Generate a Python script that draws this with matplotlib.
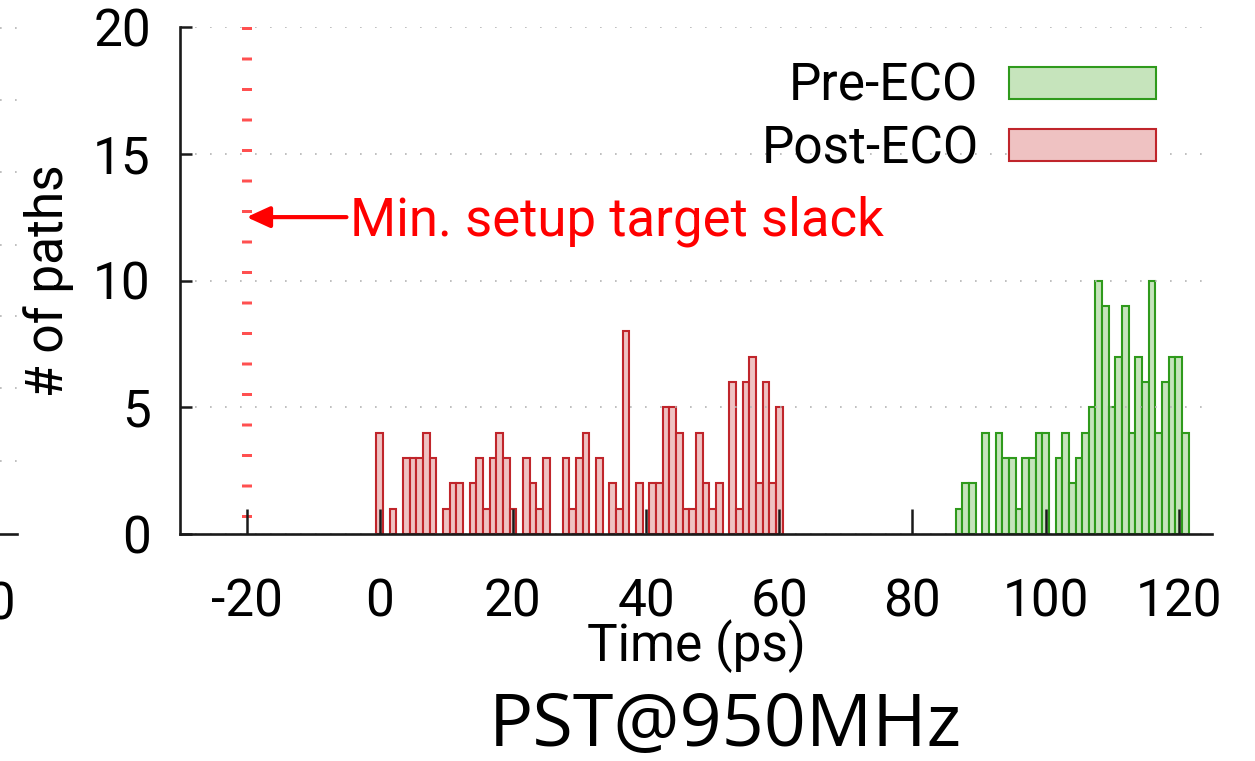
import numpy as np
import matplotlib.pyplot as plt
from matplotlib.patches import Patch
from matplotlib.lines import Line2D

# Slack histograms (1 ps bins): number of paths per bin
post_eco_ps = list(range(0, 61))
post_eco_paths = [4, 0, 1, 0, 3, 3, 3, 4, 3, 0,
                  1, 2, 2, 0, 2, 3, 1, 3, 4, 3,
                  1, 0, 3, 2, 1, 3, 0, 0, 3, 1,
                  3, 4, 0, 3, 0, 2, 1, 8, 0, 2,
                  0, 2, 2, 5, 5, 4, 1, 1, 4, 2,
                  1, 2, 0, 6, 1, 6, 7, 2, 6, 2,
                  5]
pre_eco_ps = list(range(87, 122))
pre_eco_paths = [1, 2, 2, 0, 4, 0, 4, 3, 3, 1,
                 3, 3, 4, 4, 0, 3, 4, 2, 3, 4,
                 5, 10, 9, 5, 7, 9, 4, 7, 6, 10,
                 4, 6, 7, 7, 4]

target_slack = -20
x_ticks = [-20, 0, 20, 40, 60, 80, 100, 120]
y_ticks = [0, 5, 10, 15, 20]

plt.rcParams['font.family'] = ['Roboto', 'DejaVu Sans']
plt.rcParams['axes.unicode_minus'] = False

W, H = 1255, 761
fig = plt.figure(figsize=(W / 100, H / 100), dpi=100)
ax = fig.add_axes([180 / W, 1 - 534 / H, (1212 - 180) / W, (534 - 27) / H])

green_face, green_edge = '#c6e4bc', '#2f9a1c'
red_face, red_edge = '#efc2c2', '#c0252b'


def draw_hist(xs, counts, face, edge):
    xs = np.asarray(xs)
    counts = np.asarray(counts)
    keep = counts > 0
    ax.bar(xs[keep], counts[keep], width=1.0, color=face,
           edgecolor=edge, linewidth=1.5, zorder=1)


draw_hist(pre_eco_ps, pre_eco_paths, green_face, green_edge)
draw_hist(post_eco_ps, post_eco_paths, red_face, red_edge)

# minimum setup target slack marker
ax.plot([target_slack, target_slack], [20, 0], color='#ff5050', lw=7.2,
        dashes=(0.3, 2.75), dash_capstyle='butt', zorder=1.2, clip_on=False)
ax.annotate('', xy=(target_slack, 12.5), xytext=(-5.0, 12.5),
            arrowprops=dict(arrowstyle='-|>,head_length=0.7,head_width=0.32',
                            color='red', lw=3, mutation_scale=20,
                            shrinkA=0, shrinkB=0))
ax.text(-4.5, 11.78, 'Min. setup target slack', color='red', fontsize=38,
        va='baseline', ha='left')

ax.set_xlim(-30, 125)
ax.set_ylim(0, 20)
ax.set_xticks(x_ticks)
ax.set_yticks(y_ticks)

for side in ('top', 'right'):
    ax.spines[side].set_visible(False)
for side in ('left', 'bottom'):
    ax.spines[side].set_linewidth(1.9)
    ax.spines[side].set_color('#1a1a1a')

ax.tick_params(axis='x', direction='in', length=18, width=1.8, color='#1a1a1a',
               labelsize=37, pad=31)
ax.tick_params(axis='y', direction='in', length=8.5, width=1.8, color='#1a1a1a',
               labelsize=37, pad=21)
ax.grid(axis='y', color='#b4b4b4', linewidth=1.2, linestyle=(0, (1, 8)))

ax.set_xlabel('Time (ps)', fontsize=37)
ax.xaxis.set_label_coords(0.5, (534 - 619) / 507)
ax.xaxis.label.set_va('top')
ax.set_ylabel('# of paths', fontsize=37)
ax.yaxis.set_label_coords((74 - 180) / 1032, 0.5)

handles = [Patch(facecolor=green_face, edgecolor=green_edge, linewidth=1.5),
           Patch(facecolor=red_face, edgecolor=red_edge, linewidth=1.5)]
ax.legend(handles, ['Pre-ECO', 'Post-ECO'], loc='upper right',
          bbox_to_anchor=((1182 - 180) / 1032, (534 - 36) / 507),
          frameon=False, fontsize=37, markerfirst=False, borderpad=0,
          handlelength=2.86, handleheight=0.58, handletextpad=0.6,
          labelspacing=0.25)

# edge of the neighbouring panel on the left
for py in [28, 100, 172, 245, 316, 388, 461]:
    fig.add_artist(Line2D([0, 18 / W], [1 - py / H] * 2, transform=fig.transFigure,
                          color='#b4b4b4', lw=1.2, linestyle=(0, (1, 8))))
fig.add_artist(Line2D([0, 17 / W], [1 - 534 / H] * 2, transform=fig.transFigure,
                      color='#1a1a1a', lw=1.9))
fig.text(16 / W, 1 - 580 / H, '120', fontsize=37, ha='right', va='top')

fig.text(725 / W, 1 - 746 / H, 'PST@950MHz', fontsize=53, family='Open Sans',
         ha='center', va='baseline')

fig.savefig('out.png', dpi=100)
